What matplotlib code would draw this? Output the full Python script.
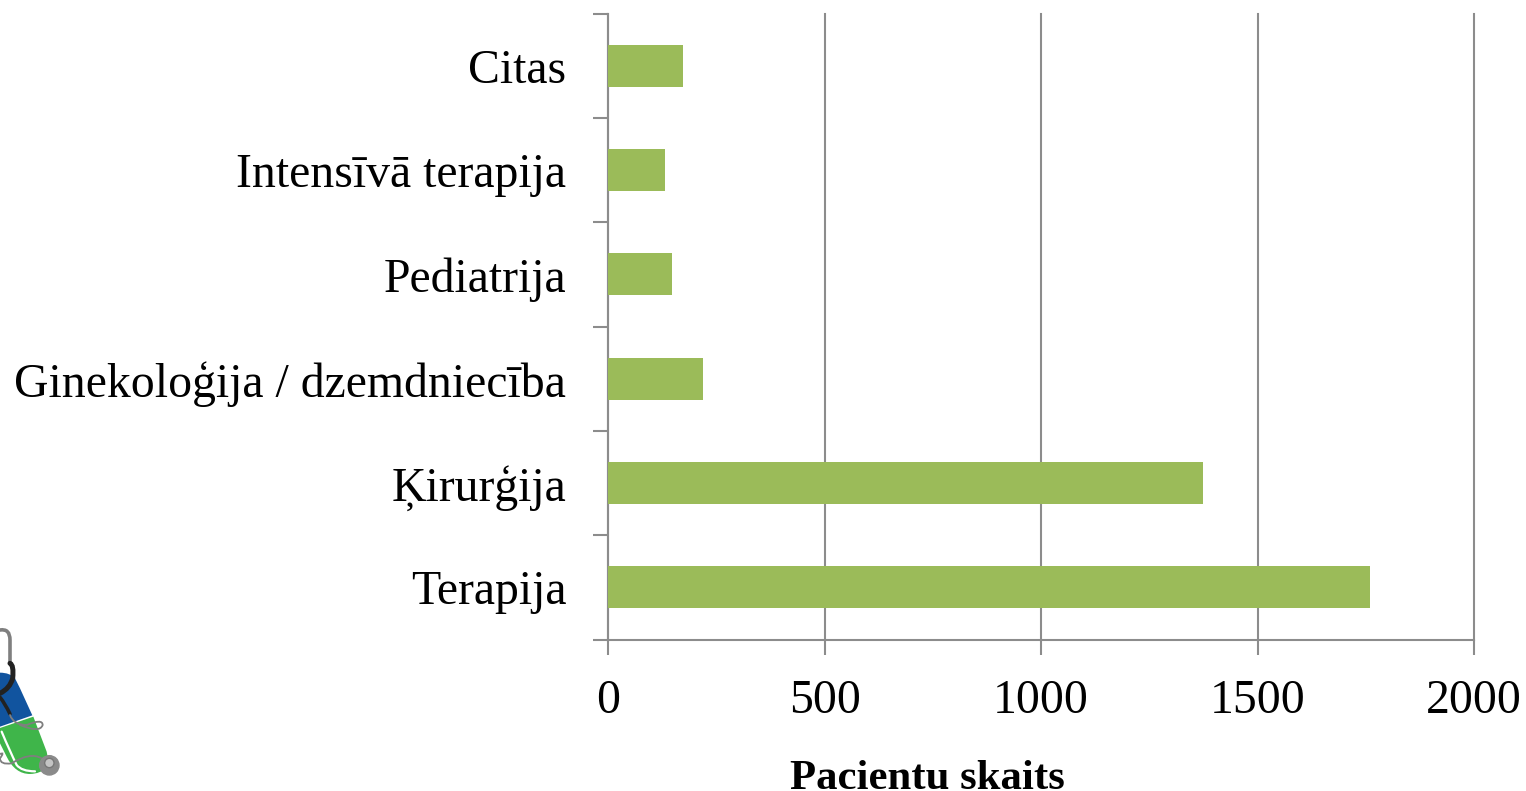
import matplotlib
matplotlib.use('Agg')
import matplotlib.pyplot as plt
from matplotlib.patches import Circle, PathPatch
from matplotlib.path import Path

categories = ['Terapija', 'Ķirurģija', 'Ginekoloģija / dzemdniecība',
              'Pediatrija', 'Intensīvā terapija', 'Citas']
patients = [1759, 1374, 220, 148, 132, 173]
x_ticks = [0, 500, 1000, 1500, 2000]

W, H = 1526, 791
grey = '#8c8c8c'

plt.rcParams['font.family'] = ['Liberation Serif', 'DejaVu Serif']

fig = plt.figure(figsize=(W / 100, H / 100), dpi=100)
ax = fig.add_axes([608 / W, 1 - 639.5 / H, 866 / W, 626 / H])

ax.barh(range(len(categories)), patients, height=0.4, color='#9bbb59', zorder=3)
ax.set_xlim(0, 2000)
ax.set_ylim(-0.5, 5.5)

# ticks sit between the categories, labels in the middle
ax.set_yticks([i - 0.5 for i in range(7)])
ax.set_yticklabels([])
ax.set_yticks(range(6), categories, minor=True)
ax.tick_params(axis='y', which='major', length=10.5, width=1.5, color=grey, direction='out')
ax.tick_params(axis='y', which='minor', length=0, pad=30, labelsize=34.4, labelcolor='black')

ax.set_xticks(x_ticks)
ax.tick_params(axis='x', length=10.5, width=1.5, color=grey, pad=18, labelsize=34.4, labelcolor='black')
ax.grid(axis='x', color=grey, linewidth=1.5, zorder=1, clip_on=False)
ax.set_axisbelow(True)

for s in ['top', 'right']:
    ax.spines[s].set_visible(False)
for s in ['left', 'bottom']:
    ax.spines[s].set_color(grey)
    ax.spines[s].set_linewidth(1.5)

# sits right on the bottom edge like in the reference, the letters still fit
ax.set_xlabel('Pacientu skaits', fontsize=30.8, fontweight='bold')
ax.xaxis.set_label_coords(0.369, -0.192)


def curve(logo, pts, **kw):
    # pts go through quadratic segments: start, ctrl, end, ctrl, end ...
    codes = [Path.MOVETO] + [Path.CURVE3] * (len(pts) - 1)
    logo.add_patch(PathPatch(Path(pts, codes), fill=False, capstyle='round', **kw))


# small logo in the bottom left corner, coordinates are 3x pixels of that corner
logo = fig.add_axes([0, 0, 80 / W, 181 / H])
logo.set_xlim(0, 240)
logo.set_ylim(543, 0)
logo.axis('off')

blue = Path([(0, 188), (30, 188), (45, 205), (60, 235), (97, 316), (0, 350), (0, 188)],
            [Path.MOVETO, Path.CURVE3, Path.CURVE3, Path.LINETO, Path.LINETO, Path.LINETO, Path.CLOSEPOLY])
logo.add_patch(PathPatch(blue, facecolor='#11549f', edgecolor='none'))

green = Path([(0, 354), (100, 320), (140, 425), (155, 490), (90, 492), (45, 492), (20, 440), (0, 400), (0, 354)],
             [Path.MOVETO, Path.LINETO, Path.LINETO, Path.CURVE3, Path.CURVE3, Path.CURVE3, Path.CURVE3,
              Path.LINETO, Path.CLOSEPOLY])
logo.add_patch(PathPatch(green, facecolor='#3fb54a', edgecolor='none'))

curve(logo, [(5, 365), (30, 425), (50, 465), (65, 484), (105, 484)], edgecolor='white', lw=1.6)
curve(logo, [(0, 60), (30, 55), (30, 90), (30, 125), (30, 160)], edgecolor='#7f7f7f', lw=2.6)
curve(logo, [(30, 160), (42, 165), (38, 205), (30, 235), (0, 250)], edgecolor='#222222', lw=3.6)
curve(logo, [(0, 262), (15, 280), (30, 312)], edgecolor='#222222', lw=2.6)
curve(logo, [(30, 315), (40, 345), (80, 345), (128, 325), (128, 345), (120, 370), (60, 345)],
      edgecolor='#7f7f7f', lw=1.3)
curve(logo, [(0, 432), (15, 425), (0, 445), (0, 465), (35, 460), (90, 425), (125, 445)],
      edgecolor='#7f7f7f', lw=1.3)
logo.add_patch(Circle((148, 466), 29, color='#8a8a8a'))
logo.add_patch(Circle((148, 459), 14, facecolor='#c4c4c4', edgecolor='#777777', lw=1))

fig.savefig('out.png', dpi=100)
